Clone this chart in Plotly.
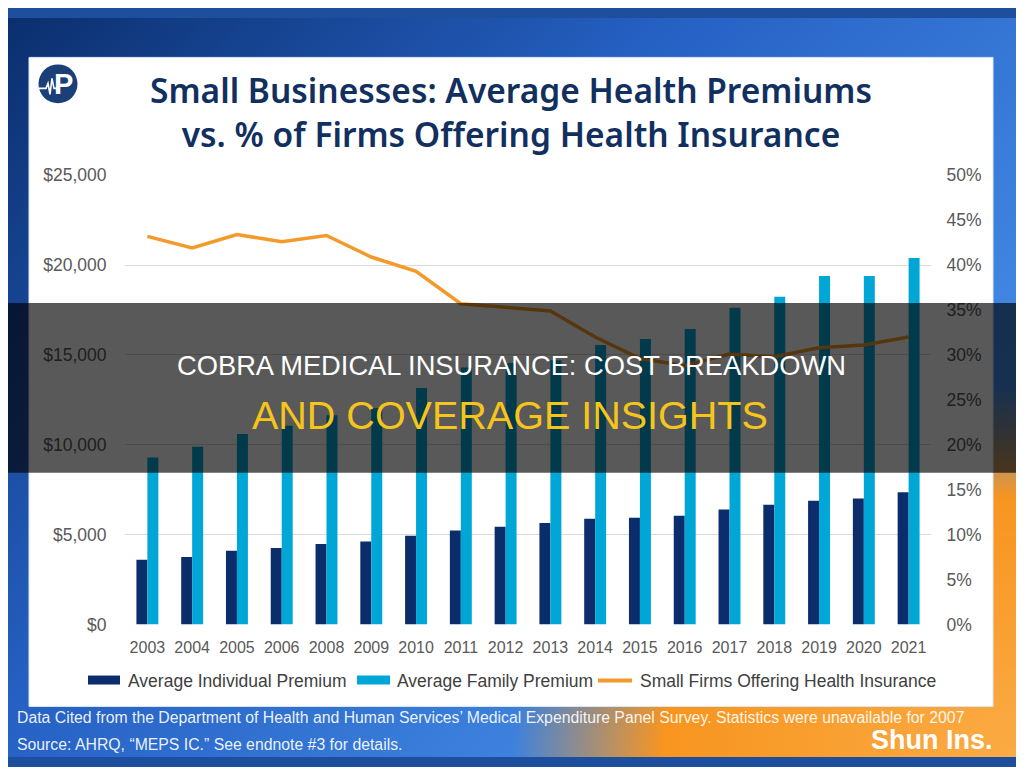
import base64
import plotly.graph_objects as go

# ---------------- data ----------------
years = ["2003", "2004", "2005", "2006", "2008", "2009", "2010", "2011", "2012",
         "2013", "2014", "2015", "2016", "2017", "2018", "2019", "2020", "2021"]
individual_premium = [3610, 3760, 4110, 4260, 4480, 4630, 4940, 5240, 5440,
                      5650, 5890, 5940, 6060, 6410, 6670, 6890, 7020, 7370]
family_premium = [9300, 9890, 10610, 11060, 11650, 12050, 13170, 14300, 14550,
                  14700, 15560, 15890, 16440, 17630, 18240, 19390, 19390, 20390]
pct_offering = [0.432, 0.419, 0.434, 0.426, 0.433, 0.409, 0.393, 0.357, 0.353,
                0.349, 0.320, 0.296, 0.288, 0.301, 0.298, 0.308, 0.311, 0.320]
left_tickvals = [0, 5000, 10000, 15000, 20000, 25000]
left_ticktext = ["$0", "$5,000", "$10,000", "$15,000", "$20,000", "$25,000"]
right_tickvals = [0, 0.05, 0.10, 0.15, 0.20, 0.25, 0.30, 0.35, 0.40, 0.45, 0.50]
right_ticktext = ["0%", "5%", "10%", "15%", "20%", "25%", "30%", "35%", "40%", "45%", "50%"]
series_names = ["Average Individual Premium", "Average Family Premium",
                "Small Firms Offering Health Insurance"]

OFF = 8
W, H = 1024 - 2 * OFF, 775 - 2 * OFF
# measured mapping of page rows to picture rows: pic = VS * (page + VT)
VS, VT = 0.975, 10.0
C_IND = "#0b2d6b"
C_FAM = "#00a6d6"
C_LINE = "#f39a2b"
C_TICK = "#595959"


def px(x):
    return (x - OFF) / W


def py(y):
    page_y = y / VS - VT
    return 1 - (page_y - OFF) / H


svg = f"""<svg xmlns='http://www.w3.org/2000/svg' width='{W}' height='{H}'>
<defs>
<linearGradient id='b' x1='0' y1='0' x2='1' y2='0.7'>
<stop offset='0' stop-color='#0b2f6e'/>
<stop offset='0.45' stop-color='#2661c4'/>
<stop offset='1' stop-color='#4a94ec'/>
</linearGradient>
<radialGradient id='o' cx='1' cy='1' r='0.5'>
<stop offset='0' stop-color='#fbab45' stop-opacity='1'/>
<stop offset='0.7' stop-color='#f7951f' stop-opacity='1'/>
<stop offset='1' stop-color='#f7951f' stop-opacity='0'/>
</radialGradient>
</defs>
<rect width='{W}' height='{H}' fill='url(#b)'/>
<rect width='{W}' height='{H}' fill='url(#o)'/>
</svg>"""
bg_uri = "data:image/svg+xml;base64," + base64.b64encode(svg.encode()).decode()

fig = go.Figure()
fig.add_trace(go.Bar(x=years, y=individual_premium, name=series_names[0],
                     marker=dict(color=C_IND, line=dict(width=0)), showlegend=False))
fig.add_trace(go.Bar(x=years, y=family_premium, name=series_names[1],
                     marker=dict(color=C_FAM, line=dict(width=0)), showlegend=False))
fig.add_trace(go.Scatter(x=years, y=pct_offering, name=series_names[2], yaxis="y2",
                         mode="lines", line=dict(color=C_LINE, width=3.5),
                         showlegend=False))

FONT = "Liberation Sans, Arial, sans-serif"

fig.update_layout(
    width=W, height=H, autosize=False,
    margin=dict(l=0, r=0, t=0, b=0),
    paper_bgcolor="#1d4f9e",
    plot_bgcolor="rgba(0,0,0,0)",
    barmode="group", bargap=0.51, bargroupgap=0,
    font=dict(family=FONT, color=C_TICK),
    xaxis=dict(domain=[px(125), px(931)], type="category",
               tickfont=dict(size=16, color=C_TICK, family=FONT),
               showgrid=False, showline=False, zeroline=False,
               ticks="outside", ticklen=8, tickcolor="rgba(0,0,0,0)"),
    yaxis=dict(domain=[py(625), py(175)], range=[0, 25000],
               tickvals=left_tickvals, ticktext=left_ticktext,
               tickfont=dict(size=17.5, color=C_TICK, family=FONT),
               showgrid=True, gridcolor="#d9d9d9", gridwidth=1,
               zeroline=False, showline=False,
               ticks="outside", ticklen=14, tickcolor="rgba(0,0,0,0)"),
    yaxis2=dict(overlaying="y", side="right", range=[0, 0.5],
                tickvals=right_tickvals, ticktext=right_ticktext,
                tickfont=dict(size=17.5, color=C_TICK, family=FONT),
                showgrid=False, zeroline=False, showline=False,
                ticks="outside", ticklen=11, tickcolor="rgba(0,0,0,0)"),
)

fig.add_layout_image(dict(source=bg_uri, xref="paper", yref="paper", x=0, y=1,
                          sizex=1, sizey=1, xanchor="left", yanchor="top",
                          sizing="stretch", layer="below"))

shapes = []
shapes.append(dict(type="rect", xref="paper", yref="paper",
                   x0=px(29), x1=px(993), y0=py(707), y1=py(57),
                   fillcolor="white", line=dict(color="#dbe6f4", width=1),
                   layer="below"))
shapes.append(dict(type="circle", xref="paper", yref="paper",
                   x0=px(38.5), x1=px(77.5), y0=py(103), y1=py(64),
                   fillcolor="#1b3f78", line=dict(width=0), layer="above"))
hb = [(39, 88), (46, 88), (48, 83), (50, 94), (52, 78), (54, 88), (58, 88)]
path = "M " + " L ".join(f"{px(a):.5f},{py(b):.5f}" for a, b in hb)
shapes.append(dict(type="path", xref="paper", yref="paper", path=path,
                   line=dict(color="white", width=1.6), layer="above"))
legend_y = 681
shapes.append(dict(type="rect", xref="paper", yref="paper",
                   x0=px(88), x1=px(120), y0=py(685), y1=py(676),
                   fillcolor=C_IND, line=dict(width=0), layer="above"))
shapes.append(dict(type="rect", xref="paper", yref="paper",
                   x0=px(357), x1=px(390), y0=py(685), y1=py(676),
                   fillcolor=C_FAM, line=dict(width=0), layer="above"))
shapes.append(dict(type="line", xref="paper", yref="paper",
                   x0=px(598), x1=px(632), y0=py(legend_y), y1=py(legend_y),
                   line=dict(color=C_LINE, width=4), layer="above"))
shapes.append(dict(type="rect", xref="paper", yref="paper",
                   x0=px(0), x1=px(1024), y0=py(473), y1=py(303),
                   fillcolor="rgba(0,0,0,0.65)", line=dict(width=0), layer="above"))
fig.update_layout(shapes=shapes)

ann = []
TITLE_FONT = "Noto Sans, Open Sans, sans-serif"
ann.append(dict(text="Small Businesses: Average Health Premiums<br>"
                     "vs. % of Firms Offering Health Insurance",
                x=px(511), y=py(112), xref="paper", yref="paper", showarrow=False,
                xanchor="center", yanchor="middle", align="center",
                font=dict(family=TITLE_FONT, size=33.5, color="#12305f", weight=600)))
ann.append(dict(text="<b>P</b>", x=px(63), y=py(84), xref="paper", yref="paper",
                showarrow=False, xanchor="center", yanchor="middle",
                font=dict(family=FONT, size=29, color="white")))
for xx, t in [(126, series_names[0]), (395, series_names[1]), (638, series_names[2])]:
    ann.append(dict(text=t, x=px(xx), y=py(legend_y), xref="paper", yref="paper",
                    showarrow=False, xanchor="left", yanchor="middle",
                    font=dict(family=FONT, size=17.5, color="#404040")))
ann.append(dict(text="COBRA MEDICAL INSURANCE: COST BREAKDOWN", x=px(511), y=py(366),
                xref="paper", yref="paper", showarrow=False, xanchor="center",
                yanchor="middle", font=dict(family=FONT, size=27.3, color="white")))
ann.append(dict(text="AND COVERAGE INSIGHTS", x=px(510), y=py(415),
                xref="paper", yref="paper", showarrow=False, xanchor="center",
                yanchor="middle", font=dict(family=FONT, size=39.5, color="#f6c51c")))
ann.append(dict(text="Data Cited from the Department of Health and Human Services’ Medical "
                     "Expenditure Panel Survey. Statistics were unavailable for 2007",
                x=px(15), y=py(718), xref="paper", yref="paper", showarrow=False,
                xanchor="left", yanchor="middle",
                font=dict(family=FONT, size=15.8, color="rgba(255,255,255,0.92)")))
ann.append(dict(text="Source: AHRQ, “MEPS IC.” See endnote #3 for details.",
                x=px(15), y=py(745), xref="paper", yref="paper", showarrow=False,
                xanchor="left", yanchor="middle",
                font=dict(family=FONT, size=15.8, color="rgba(255,255,255,0.92)")))
ann.append(dict(text="<b>Shun Ins.</b>", x=px(995), y=py(741), xref="paper", yref="paper",
                showarrow=False, xanchor="right", yanchor="middle",
                font=dict(family=FONT, size=27, color="white")))
fig.update_layout(annotations=ann)

fig.write_html("out.html", config={"displayModeBar": False})
